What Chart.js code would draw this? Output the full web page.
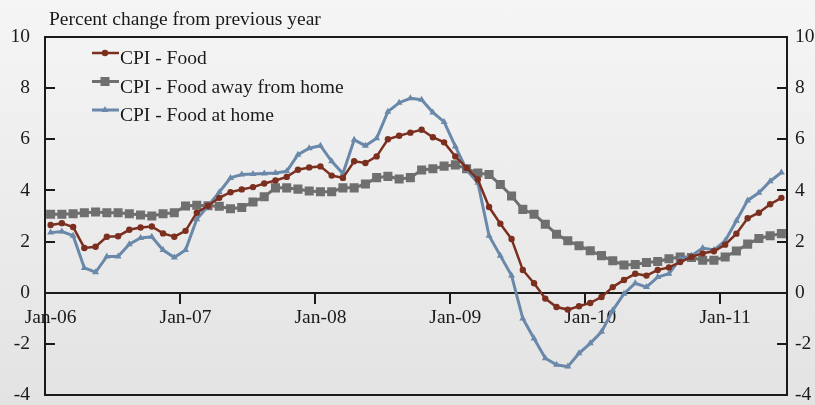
<!DOCTYPE html>
<html>
<head>
<meta charset="utf-8">
<script src="https://cdn.jsdelivr.net/npm/chart.js@4.4.1/dist/chart.umd.min.js"></script>
<style>
  html, body { margin: 0; padding: 0; }
  body { width: 815px; height: 405px; overflow: hidden; background: linear-gradient(#f5f5f5, #e3e3e3); }
  canvas { display: block; }
</style>
</head>
<body>
<canvas id="cpi-chart" width="815" height="405"></canvas>
<script>
// monthly categories, Jan-06 .. Jun-11
const months = [
  'Jan-06','Feb-06','Mar-06','Apr-06','May-06','Jun-06','Jul-06','Aug-06','Sep-06','Oct-06','Nov-06','Dec-06',
  'Jan-07','Feb-07','Mar-07','Apr-07','May-07','Jun-07','Jul-07','Aug-07','Sep-07','Oct-07','Nov-07','Dec-07',
  'Jan-08','Feb-08','Mar-08','Apr-08','May-08','Jun-08','Jul-08','Aug-08','Sep-08','Oct-08','Nov-08','Dec-08',
  'Jan-09','Feb-09','Mar-09','Apr-09','May-09','Jun-09','Jul-09','Aug-09','Sep-09','Oct-09','Nov-09','Dec-09',
  'Jan-10','Feb-10','Mar-10','Apr-10','May-10','Jun-10','Jul-10','Aug-10','Sep-10','Oct-10','Nov-10','Dec-10',
  'Jan-11','Feb-11','Mar-11','Apr-11','May-11','Jun-11'
];
const xTickLabels = ['Jan-06', 'Jan-07', 'Jan-08', 'Jan-09', 'Jan-10', 'Jan-11'];
const yTicks = [-4, -2, 0, 2, 4, 6, 8, 10];

const cpiFood = [
  2.65, 2.72, 2.57, 1.75, 1.80, 2.19, 2.21, 2.46, 2.55, 2.59, 2.32, 2.19,
  2.42, 3.13, 3.40, 3.71, 3.93, 4.04, 4.13, 4.27, 4.39, 4.53, 4.81, 4.90,
  4.94, 4.58, 4.49, 5.14, 5.07, 5.33, 6.00, 6.14, 6.26, 6.37, 6.08, 5.88,
  5.33, 4.88, 4.43, 3.35, 2.70, 2.10, 0.89, 0.37, -0.23, -0.56, -0.66, -0.53,
  -0.40, -0.17, 0.22, 0.50, 0.74, 0.67, 0.89, 0.99, 1.20, 1.40, 1.54, 1.62,
  1.88, 2.31, 2.91, 3.13, 3.46, 3.71
];
const cpiAway = [
  3.07, 3.07, 3.09, 3.13, 3.16, 3.13, 3.13, 3.09, 3.04, 3.00, 3.09, 3.13,
  3.39, 3.42, 3.40, 3.38, 3.28, 3.33, 3.55, 3.75, 4.10, 4.10, 4.05, 3.98,
  3.95, 3.95, 4.10, 4.10, 4.25, 4.50, 4.55, 4.45, 4.50, 4.80, 4.85, 4.95,
  5.00, 4.85, 4.68, 4.62, 4.23, 3.78, 3.26, 3.07, 2.68, 2.29, 2.03, 1.84,
  1.64, 1.45, 1.25, 1.08, 1.10, 1.18, 1.22, 1.33, 1.40, 1.38, 1.27, 1.27,
  1.40, 1.63, 1.90, 2.12, 2.23, 2.31
];
const cpiHome = [
  2.35, 2.39, 2.23, 0.97, 0.80, 1.42, 1.42, 1.90, 2.14, 2.19, 1.67, 1.38,
  1.67, 2.87, 3.39, 3.93, 4.49, 4.62, 4.64, 4.66, 4.68, 4.75, 5.40, 5.65,
  5.75, 5.14, 4.66, 5.98, 5.75, 6.04, 7.08, 7.43, 7.60, 7.55, 7.05, 6.68,
  5.72, 4.80, 4.30, 2.23, 1.45, 0.67, -1.01, -1.79, -2.56, -2.82, -2.89, -2.37,
  -1.98, -1.53, -0.69, -0.04, 0.37, 0.22, 0.61, 0.74, 1.32, 1.45, 1.75, 1.67,
  2.03, 2.81, 3.61, 3.91, 4.36, 4.70
];

const serif = "'Liberation Serif', 'DejaVu Serif', serif";
const ink = '#1a1a1a';
const fontPx = 19.5;
Chart.defaults.font.family = serif;
Chart.defaults.font.size = fontPx;
Chart.defaults.color = ink;

// little marker drawer used by the legend
function drawMarker(ctx, style, r, x, y, color) {
  ctx.fillStyle = color;
  ctx.beginPath();
  if (style === 'rect') {
    const s = r * Math.SQRT1_2;
    ctx.rect(x - s, y - s, 2 * s, 2 * s);
  } else if (style === 'triangle') {
    ctx.moveTo(x, y - r);
    ctx.lineTo(x + r * 0.866, y + r * 0.5);
    ctx.lineTo(x - r * 0.866, y + r * 0.5);
    ctx.closePath();
  } else {
    ctx.arc(x, y, r, 0, Math.PI * 2);
  }
  ctx.fill();
}

// keep the plot box exactly where layout.padding + axis widths put it
function noPadding(s) {
  s.paddingTop = 0;
  s.paddingBottom = 0;
  s.paddingLeft = 0;
  s.paddingRight = 0;
}

const framePlugin = {
  id: 'frame',
  afterDraw(chart) {
    const ctx = chart.ctx;
    const area = chart.chartArea;
    const yl = chart.scales.y;
    ctx.save();
    ctx.strokeStyle = ink;
    ctx.lineWidth = 2;
    // box top + bottom
    ctx.beginPath();
    ctx.moveTo(area.left, area.top);
    ctx.lineTo(area.right, area.top);
    ctx.moveTo(area.left, area.bottom);
    ctx.lineTo(area.right, area.bottom);
    ctx.stroke();
    // inward tick marks on both value axes
    ctx.beginPath();
    yTicks.forEach(v => {
      const py = Math.round(yl.getPixelForValue(v));
      ctx.moveTo(area.left, py);
      ctx.lineTo(area.left + 10, py);
      ctx.moveTo(area.right - 10, py);
      ctx.lineTo(area.right, py);
    });
    ctx.stroke();

    // axis caption
    ctx.fillStyle = ink;
    ctx.font = fontPx + 'px ' + serif;
    ctx.textAlign = 'left';
    ctx.textBaseline = 'alphabetic';
    ctx.fillText('Percent change from previous year', area.left + 4, 25);

    // legend inside plot
    [0, 1, 2].forEach(i => {
      const ds = chart.data.datasets[i];
      const y = area.top + 16 + i * 28.5;
      const x0 = area.left + 47;
      ctx.strokeStyle = ds.borderColor;
      ctx.lineWidth = ds.borderWidth;
      ctx.beginPath();
      ctx.moveTo(x0, y);
      ctx.lineTo(x0 + 27, y);
      ctx.stroke();
      drawMarker(ctx, ds.pointStyle, ds.pointRadius, x0 + 13, y, ds.borderColor);
      ctx.fillStyle = ink;
      ctx.fillText(ds.label, x0 + 28, y + 11);
    });
    ctx.restore();
  }
};

new Chart(document.getElementById('cpi-chart'), {
  type: 'line',
  data: {
    labels: months,
    datasets: [
      {
        label: 'CPI - Food',
        data: cpiFood,
        borderColor: '#7b2f1f',
        backgroundColor: '#7b2f1f',
        borderWidth: 2.5,
        pointStyle: 'circle',
        pointRadius: 3.2,
        pointBorderWidth: 0,
        order: 1
      },
      {
        label: 'CPI - Food away from home',
        data: cpiAway,
        borderColor: '#6f6f6f',
        backgroundColor: '#6f6f6f',
        borderWidth: 3,
        pointStyle: 'rect',
        pointRadius: 6.4,
        pointBorderWidth: 0,
        order: 3
      },
      {
        label: 'CPI - Food at home',
        data: cpiHome,
        borderColor: '#6a88aa',
        backgroundColor: '#6a88aa',
        borderWidth: 3,
        pointStyle: 'triangle',
        pointRadius: 4,
        pointBorderWidth: 0,
        order: 2
      }
    ]
  },
  options: {
    responsive: false,
    animation: false,
    layout: { padding: { top: 37, bottom: 10, left: 0, right: 0 } },
    plugins: {
      legend: { display: false },
      tooltip: { enabled: false }
    },
    elements: { line: { tension: 0 } },
    scales: {
      x: {
        type: 'category',
        position: { y: 0 },
        offset: true,
        grid: {
          offset: true,
          drawOnChartArea: false,
          tickLength: 10,
          lineWidth: 2,
          color: c => (c.index % 12 === 0 ? ink : 'rgba(0,0,0,0)')
        },
        border: { display: true, color: ink, width: 2 },
        ticks: {
          autoSkip: false,
          maxRotation: 0,
          padding: 3,
          callback: function (value, index) {
            const m = months[index];
            return xTickLabels.includes(m) ? m : '';
          }
        },
        afterFit: noPadding
      },
      y: {
        position: 'left',
        min: -4,
        max: 10,
        ticks: { stepSize: 2, padding: 15 },
        grid: { drawOnChartArea: false, drawTicks: false },
        border: { display: true, color: ink, width: 2 },
        afterFit: s => { noPadding(s); s.width = 45; }
      },
      y2: {
        position: 'right',
        display: true,
        min: -4,
        max: 10,
        ticks: { stepSize: 2, padding: 8 },
        grid: { drawOnChartArea: false, drawTicks: false },
        border: { display: true, color: ink, width: 2 },
        afterFit: s => { noPadding(s); s.width = 28; }
      }
    }
  },
  plugins: [framePlugin]
});
</script>
</body>
</html>
